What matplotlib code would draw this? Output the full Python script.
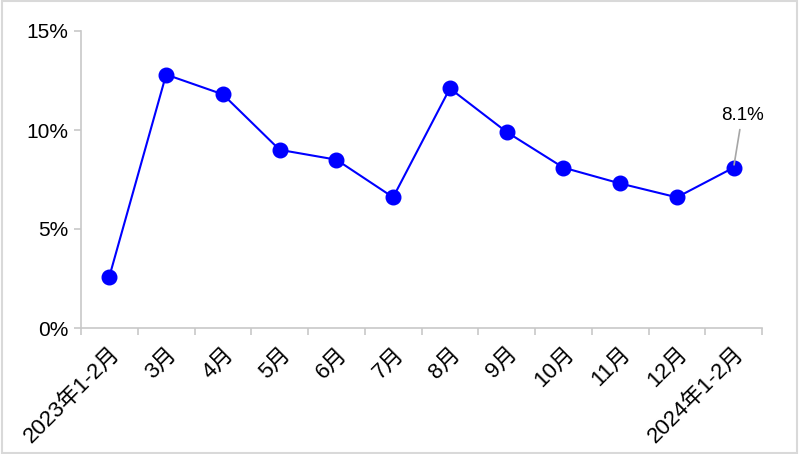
import matplotlib
matplotlib.use("Agg")
import matplotlib.pyplot as plt
from matplotlib.patches import Rectangle
from matplotlib.ticker import FixedLocator, FuncFormatter

categories = ["2023年1-2月", "3月", "4月", "5月", "6月", "7月", "8月", "9月",
              "10月", "11月", "12月", "2024年1-2月"]
values = [2.6, 12.8, 11.8, 9.0, 8.5, 6.6, 12.1, 9.9, 8.1, 7.3, 6.6, 8.1]
yticks = [0, 5, 10, 15]
label_text = "8.1%"

plt.rcParams['font.family'] = ['Liberation Sans', 'Noto Sans CJK SC', 'DejaVu Sans']

fig = plt.figure(figsize=(7.99, 4.54), dpi=100)
ax = fig.add_axes([81/799, 1-328/454, (762-81)/799, (328-31)/454])

x = list(range(len(categories)))
ax.plot(x, values, color="#0000ff", linewidth=1.5, marker="o", markersize=10.5,
        markerfacecolor="#0000ff", markeredgecolor="#0000ff", zorder=3)

ax.set_xlim(-0.5, len(categories) - 0.5)
ax.set_ylim(0, 15)
ax.set_yticks(yticks)
ax.yaxis.set_major_formatter(FuncFormatter(lambda v, p: f"{v:.0f}%"))

ax.set_xticks(x)
ax.set_xticklabels(categories, rotation=45, ha="right", rotation_mode="anchor")
ax.xaxis.set_minor_locator(FixedLocator([i - 0.5 for i in range(len(categories) + 1)]))
ax.tick_params(axis="x", which="major", length=0, pad=11, labelsize=16)
ax.tick_params(axis="x", which="minor", length=5, color="#c8c8c8", width=1.2)
ax.tick_params(axis="y", length=5, color="#c8c8c8", width=1.2, labelsize=15, pad=4)

for s in ["top", "right"]:
    ax.spines[s].set_visible(False)
for s in ["left", "bottom"]:
    ax.spines[s].set_color("#c8c8c8")
    ax.spines[s].set_linewidth(1.2)

ax.annotate(label_text, xy=(x[-1], values[-1]), xytext=(x[-1] + 0.15, values[-1] + 2.2),
            ha="center", va="bottom", fontsize=13.5,
            arrowprops=dict(arrowstyle="-", color="#a6a6a6", lw=1.2, shrinkA=2, shrinkB=2))

fig.patches.append(Rectangle((0.002, 0.003), 0.996, 0.994, transform=fig.transFigure,
                             fill=False, edgecolor="#d9d9d9", linewidth=1.5))

fig.savefig("out.png", dpi=100)
